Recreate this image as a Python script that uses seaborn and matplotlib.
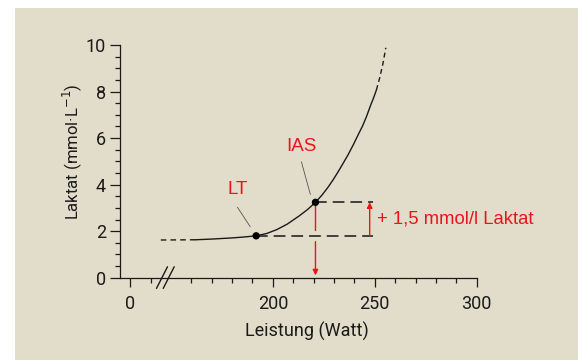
import matplotlib
matplotlib.use("Agg")
import matplotlib.pyplot as plt
import seaborn as sns
import pandas as pd
from matplotlib.patches import Rectangle

# ---- data ----
watt_solid = [162, 170, 180, 186, 191.8, 197, 202, 207, 213, 217, 220.9, 224, 227, 229.5,
              232, 234.5, 237, 239.5, 242, 244, 246, 248, 249.5, 250.8]
lakt_solid = [1.63, 1.66, 1.71, 1.75, 1.80, 1.90, 2.07, 2.30, 2.66, 2.93, 3.24, 3.54, 3.88, 4.20,
              4.55, 4.92, 5.30, 5.72, 6.17, 6.52, 6.94, 7.42, 7.75, 8.07]
watt_low = [145, 162]
lakt_low = [1.62, 1.63]
watt_high = [250.8, 252.5, 254.0, 255.4]
lakt_high = [8.07, 8.62, 9.20, 9.88]

lt_watt, lt_lakt = 191.8, 1.80
ias_watt, ias_lakt = 220.9, 3.24
delta_label = "+ 1,5 mmol/l Laktat"

x_major_pos = [130, 200, 250, 300]
x_major_labels = ["0", "200", "250", "300"]
x_minor_pos = [140, 160, 170, 180, 190, 210, 220, 230, 240, 260, 270, 280, 290]
y_major = [0, 2, 4, 6, 8, 10]

xlabel = "Leistung (Watt)"
ylabel = "Laktat (mmol·L$^{-1}$)"

RED = "#E8161B"
BG = "#E2DCCA"
INK = "#1a1a1a"

sns.set_theme(style="ticks")
plt.rcParams["font.family"] = ["Roboto", "DejaVu Sans"]

fig = plt.figure(figsize=(5.78, 3.6), dpi=100)
fig.patch.set_facecolor("white")
bg = Rectangle((15 / 578, 0), 1 - 15 / 578, 1 - 8 / 360,
               transform=fig.transFigure, facecolor=BG,
               edgecolor="none", zorder=-10)
fig.patches.append(bg)

ax = fig.add_axes([120 / 578, 1 - 277.7 / 360, 356.7 / 578, 232.7 / 360])
ax.set_facecolor("none")
ax.set_zorder(1)

# curve
sns.lineplot(x=watt_solid, y=lakt_solid, color=INK, lw=1.0, ax=ax, sort=False)
sns.lineplot(x=watt_low, y=lakt_low, color=INK, lw=1.0, ax=ax, sort=False,
             linestyle=(0, (4, 3)))
sns.lineplot(x=watt_high, y=lakt_high, color=INK, lw=1.0, ax=ax, sort=False,
             linestyle=(0, (3.5, 2.5)))

# dashed guide lines
x_end = 249
ax.plot([lt_watt, x_end], [lt_lakt, lt_lakt], color="#333333", lw=1.3,
        linestyle=(0, (6.5, 3.3)))
ax.plot([ias_watt, x_end], [ias_lakt, ias_lakt], color="#333333", lw=1.3,
        linestyle=(0, (6.5, 3.3)))

# points
pts = pd.DataFrame({"w": [lt_watt, ias_watt], "l": [lt_lakt, ias_lakt]})
sns.scatterplot(data=pts, x="w", y="l", color="black", s=28, ax=ax,
                edgecolor="none", zorder=5)

# red vertical arrow (interrupted at the lower guide line)
ax.plot([ias_watt, ias_watt], [ias_lakt, lt_lakt + 0.25], color=RED, lw=1.0)
ax.annotate("", xy=(ias_watt, 0.1), xytext=(ias_watt, lt_lakt - 0.25),
            arrowprops=dict(arrowstyle="-|>", color=RED, lw=1.0,
                            mutation_scale=8, shrinkA=0, shrinkB=0))
# red up arrow
ax.annotate("", xy=(247.5, ias_lakt), xytext=(247.5, lt_lakt),
            arrowprops=dict(arrowstyle="-|>", color=RED, lw=1.0,
                            mutation_scale=8, shrinkA=0, shrinkB=0))

# labels with leader lines
ax.plot([182.6, 188.9], [3.03, 2.19], color="#555555", lw=0.6)
ax.plot([214.0, 218.4], [4.98, 3.58], color="#555555", lw=0.6)
ax.text(182.8, 3.77, "LT", color=RED, fontsize=13.5, ha="center", va="center",
        family="Liberation Sans")
ax.text(214.1, 5.63, "IAS", color=RED, fontsize=13.5, ha="center", va="center",
        family="Liberation Sans")
ax.text(251.2, 2.51, delta_label, color=RED, fontsize=13.3, ha="left", va="center",
        family="Liberation Sans", clip_on=False)

# axis break marks
ax.plot([142.9, 148.3], [-0.46, 0.47], color=INK, lw=1.0, clip_on=False)
ax.plot([146.2, 151.6], [-0.46, 0.47], color=INK, lw=1.0, clip_on=False)

# axes styling
ax.set_xlim(125, 300)
ax.set_ylim(0, 10)
for s in ["top", "right"]:
    ax.spines[s].set_visible(False)
for s in ["left", "bottom"]:
    ax.spines[s].set_color(INK)
    ax.spines[s].set_linewidth(0.9)

ax.set_xticks(x_major_pos)
ax.set_xticklabels(x_major_labels)
ax.set_xticks(x_minor_pos, minor=True)
ax.set_yticks(y_major)
ax.set_yticks([v + 0.5 * k for v in range(0, 10) for k in (0, 1)
               if (v + 0.5 * k) not in y_major], minor=True)
ax.tick_params(axis="both", which="major", color=INK, width=0.9, labelsize=13,
               labelcolor=INK, direction="out")
ax.tick_params(axis="x", which="major", length=6.5, pad=6)
ax.tick_params(axis="y", which="major", length=7, pad=3)
ax.tick_params(axis="both", which="minor", color=INK, width=0.9, length=3.6,
               direction="out")

ax.set_xlabel(xlabel, fontsize=13, color=INK)
ax.set_ylabel(ylabel, fontsize=12, color=INK)
ax.xaxis.set_label_coords(0.524, -0.232)
ax.yaxis.set_label_coords(-0.135, 0.541)
ax.xaxis.label.set_va("center")
ax.yaxis.label.set_va("center")

fig.savefig("out.png", dpi=100, facecolor=fig.get_facecolor())
